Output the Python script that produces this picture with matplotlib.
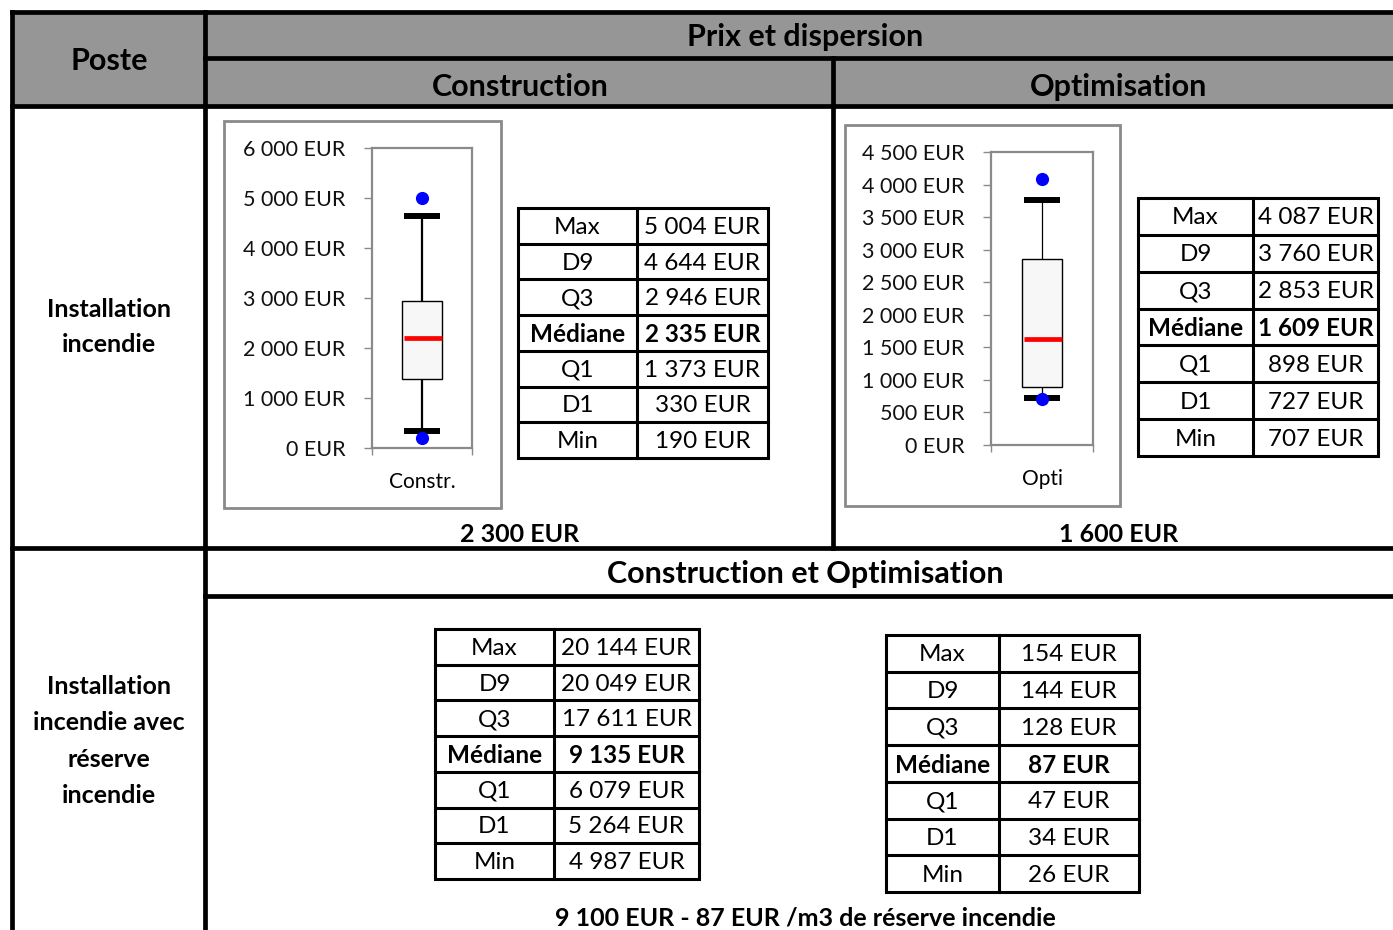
import matplotlib
matplotlib.use("Agg")
import matplotlib.pyplot as plt
from matplotlib.patches import Rectangle
from matplotlib.ticker import FuncFormatter, FixedLocator

# ---------------- data ----------------
stat_labels = ["Max", "D9", "Q3", "Médiane", "Q1", "D1", "Min"]
constr_values = [5004, 4644, 2946, 2335, 1373, 330, 190]
opti_values = [4087, 3760, 2853, 1609, 898, 727, 707]
reserve_total_values = [20144, 20049, 17611, 9135, 6079, 5264, 4987]
reserve_m3_values = [154, 144, 128, 87, 47, 34, 26]
constr_red_line = 2200      # red line
opti_red_line = 1630
constr_ticks = [0, 1000, 2000, 3000, 4000, 5000, 6000]
opti_ticks = [0, 500, 1000, 1500, 2000, 2500, 3000, 3500, 4000, 4500]
constr_summary = "2 300 EUR"
opti_summary = "1 600 EUR"
reserve_summary = "9 100 EUR - 87 EUR /m3 de réserve incendie"
row_labels = ["Installation\nincendie", "Installation\nincendie avec\nréserve\nincendie"]

FONT = "Lato"
W, H = 1393, 930


def eur(v):
    return f"{v:,}".replace(",", " ") + " EUR"


fig = plt.figure(figsize=(W / 100, H / 100), dpi=100)
ax = fig.add_axes([0, 0, 1, 1])
ax.set_xlim(0, W)
ax.set_ylim(H, 0)
ax.axis("off")

BLK = dict(color="black", lw=3.4, solid_capstyle="projecting")

# header fill
ax.add_patch(Rectangle((12, 12), W - 12, 94, facecolor="#969696", edgecolor="none", zorder=0))

# grid lines
ax.plot([12, W], [12, 12], **BLK)
ax.plot([205, W], [58, 58], **BLK)
ax.plot([12, W], [106, 106], **BLK)
ax.plot([12, W], [548, 548], **BLK)
ax.plot([205, W], [596, 596], **BLK)
ax.plot([12, 12], [12, H], **BLK)
ax.plot([205, 205], [12, H], **BLK)
ax.plot([833, 833], [58, 548], **BLK)


def txt(x, y, s, size, bold=False, **kw):
    ax.text(x, y, s, ha="center", va="center", fontsize=size,
            fontweight="bold" if bold else "normal", family=FONT, **kw)


txt(109, 61, "Poste", 22, True)
txt(805, 37, "Prix et dispersion", 22, True)
txt(520, 87, "Construction", 22, True)
txt(1119, 87, "Optimisation", 22, True)
txt(109, 327, row_labels[0], 18, True, linespacing=1.68)
txt(109, 741, row_labels[1], 18, True, linespacing=1.7)
txt(520, 534, constr_summary, 18, True)
txt(1119, 534, opti_summary, 18, True)
txt(805, 574, "Construction et Optimisation", 22, True)
txt(805, 918, reserve_summary, 18, True)


def stat_table(x0, xd, x1, y0, y1, values):
    rh = (y1 - y0) / len(values)
    lw = 2.2
    ax.add_patch(Rectangle((x0, y0), x1 - x0, y1 - y0, fill=False, edgecolor="black", lw=lw))
    ax.plot([xd, xd], [y0, y1], color="black", lw=lw)
    for i in range(1, len(values)):
        ax.plot([x0, x1], [y0 + i * rh, y0 + i * rh], color="black", lw=lw)
    for i, (lab, v) in enumerate(zip(stat_labels, values)):
        b = lab == "Médiane"
        yc = y0 + (i + 0.5) * rh + 1.5
        txt((x0 + xd) / 2, yc, lab, 17.5, b)
        txt((xd + x1) / 2, yc, eur(v), 17.5, b)


stat_table(518, 637, 768, 208, 458, constr_values)
stat_table(1138, 1253, 1378, 198, 456, opti_values)
stat_table(435, 554, 699, 629, 879, reserve_total_values)
stat_table(886, 999, 1139, 635, 892, reserve_m3_values)


def px_axes(x0, y0, x1, y1):
    return fig.add_axes([x0 / W, 1 - y1 / H, (x1 - x0) / W, (y1 - y0) / H])


def boxchart(frame, area, values, red, ticks, cat, wlw):
    fx0, fy0, fx1, fy1 = frame
    ax.add_patch(Rectangle((fx0, fy0), fx1 - fx0, fy1 - fy0, facecolor="white",
                           edgecolor="#8a8a8a", lw=2.0, zorder=1))
    bx = px_axes(*area)
    mx, d9, q3, med, q1, d1, mn = values
    bx.set_xlim(-0.5, 0.5)
    bx.set_ylim(ticks[0], ticks[-1])
    bx.vlines(0, q3, d9, color="black", lw=wlw, zorder=2)
    bx.vlines(0, d1, q1, color="black", lw=wlw, zorder=2)
    bx.bar(0, q3 - q1, bottom=q1, width=0.4, color="#f7f7f7", edgecolor="black", lw=1.0, zorder=3)
    bx.hlines([d9, d1], -0.18, 0.18, color="black", lw=4.3, zorder=4)
    bx.hlines(red, -0.18, 0.195, color="#ff0000", lw=3.4, zorder=4)
    bx.scatter([0, 0], [mx, mn], s=90, color="#0000ff", zorder=5, linewidths=0)
    for s in bx.spines.values():
        s.set_color("#8a8a8a")
        s.set_linewidth(1.6)
    bx.yaxis.set_major_locator(FixedLocator(ticks))
    bx.yaxis.set_major_formatter(FuncFormatter(lambda v, p: eur(int(round(v)))))
    bx.tick_params(axis="y", direction="out", length=6, width=1.0, color="#8a8a8a",
                   pad=13, labelsize=15.5, labelcolor="#111111")
    bx.set_xticks([0])
    bx.set_xticklabels([cat], family=FONT, fontsize=15)
    bx.tick_params(axis="x", length=0, pad=17)
    bx.set_xticks([-0.5, 0.5], minor=True)
    bx.tick_params(axis="x", which="minor", direction="out", length=5, width=1.0, color="#8a8a8a")
    for lab in bx.get_yticklabels():
        lab.set_family(FONT)


boxchart((224, 121, 501, 508), (372, 148, 472, 448), constr_values, constr_red_line,
         constr_ticks, "Constr.", 1.6)
boxchart((845, 125, 1120, 506), (991, 152, 1093, 445), opti_values, opti_red_line,
         opti_ticks, "Opti", 0.9)

fig.savefig("out.png", dpi=100)
